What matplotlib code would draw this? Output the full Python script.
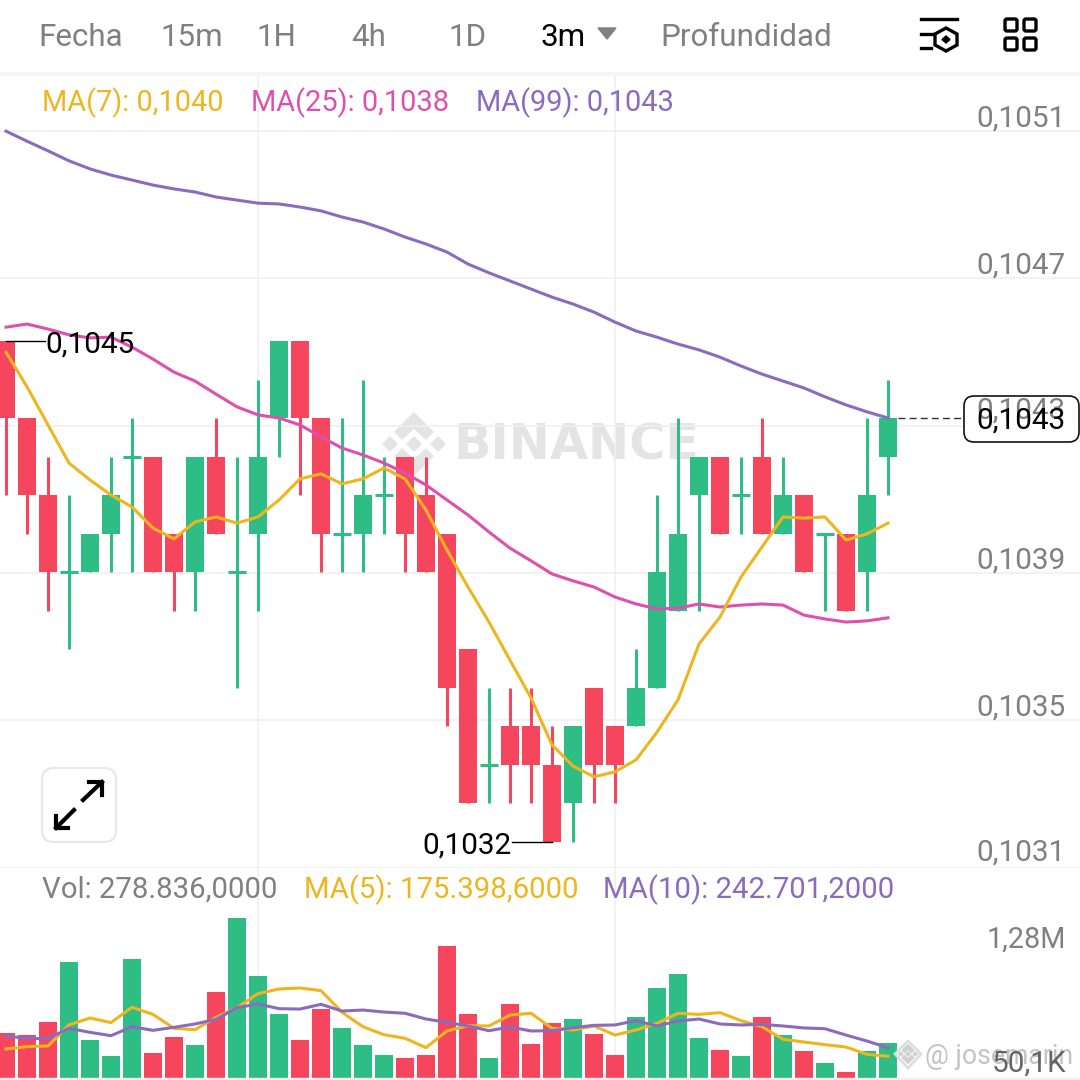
import matplotlib
matplotlib.use("Agg")
import matplotlib.pyplot as plt
from matplotlib.patches import FancyBboxPatch, Polygon

plt.rcParams['font.family'] = ['Roboto', 'DejaVu Sans']

# precios en diezmilesimas (1045 = 0,1045)
opens = [1045, 1043, 1041, 1039, 1039, 1040, 1042, 1042, 1040, 1039, 1042, 1039, 1040, 1043, 1045, 1043, 1040, 1040, 1041, 1042, 1041, 1040,
         1037, 1034, 1035, 1035, 1034, 1033, 1036, 1035, 1035, 1036, 1038, 1041, 1042, 1041, 1042, 1040, 1041, 1040, 1040, 1039, 1042]
closes = [1043, 1041, 1039, 1039, 1040, 1041, 1042, 1039, 1039, 1042, 1040, 1039, 1042, 1045, 1043, 1040, 1040, 1041, 1041, 1040, 1039, 1036,
          1033, 1034, 1034, 1034, 1032, 1035, 1034, 1034, 1036, 1039, 1040, 1042, 1040, 1041, 1040, 1041, 1039, 1040, 1038, 1041, 1043]
highs = [1045, 1043, 1042, 1041, 1040, 1042, 1043, 1042, 1040, 1042, 1043, 1042, 1044, 1045, 1045, 1043, 1043, 1044, 1042, 1042, 1042, 1040,
         1037, 1036, 1036, 1036, 1035, 1035, 1036, 1035, 1037, 1041, 1043, 1042, 1042, 1042, 1043, 1042, 1041, 1040, 1040, 1043, 1044]
lows = [1041, 1040, 1038, 1037, 1039, 1039, 1039, 1039, 1038, 1038, 1040, 1036, 1038, 1042, 1041, 1039, 1039, 1039, 1040, 1039, 1039, 1035,
        1033, 1033, 1033, 1033, 1032, 1032, 1033, 1033, 1035, 1036, 1038, 1038, 1040, 1040, 1040, 1040, 1039, 1038, 1038, 1038, 1041]

ma7 = [1044.71, 1043.81, 1042.82, 1041.83, 1041.39, 1041.0, 1040.69, 1040.14, 1039.86, 1040.3, 1040.43, 1040.27, 1040.43, 1040.87, 1041.42,
       1041.55, 1041.29, 1041.42, 1041.7, 1041.42, 1040.61, 1039.57, 1038.61, 1037.7, 1036.71, 1035.73, 1034.51, 1033.96, 1033.68, 1033.81,
       1034.12, 1034.84, 1035.68, 1037.13, 1037.83, 1038.87, 1039.65, 1040.43, 1040.4, 1040.43, 1039.83, 1039.99, 1040.27]
ma25 = [1045.36, 1045.44, 1045.31, 1045.16, 1045.08, 1045.1, 1044.84, 1044.53, 1044.19, 1043.96, 1043.62, 1043.29, 1043.08, 1043.0, 1042.82,
        1042.51, 1042.22, 1042.04, 1041.83, 1041.57, 1041.26, 1040.87, 1040.48, 1040.04, 1039.62, 1039.29, 1038.95, 1038.77, 1038.61, 1038.35,
        1038.17, 1038.04, 1038.06, 1038.17, 1038.09, 1038.14, 1038.17, 1038.14, 1037.88, 1037.78, 1037.7, 1037.73, 1037.81]
ma99 = [1050.45, 1050.19, 1049.94, 1049.68, 1049.47, 1049.31, 1049.18, 1049.05, 1048.95, 1048.87, 1048.74, 1048.66, 1048.58, 1048.56, 1048.48,
        1048.38, 1048.22, 1048.09, 1047.91, 1047.7, 1047.52, 1047.31, 1047.0, 1046.77, 1046.56, 1046.35, 1046.14, 1045.96, 1045.75, 1045.49,
        1045.26, 1045.1, 1044.92, 1044.77, 1044.58, 1044.35, 1044.14, 1043.96, 1043.78, 1043.55, 1043.34, 1043.16, 1043.0]

# volumen en miles
volumes = [359, 348, 453, 929, 305, 177, 953, 201, 329, 265, 688, 1285, 819, 514, 308, 557, 404, 268, 187, 161, 182, 1060,
           511, 158, 592, 270, 445, 477, 351, 182, 493, 726, 836, 321, 228, 174, 493, 345, 214, 118, 51, 220, 279]
vol_ma5 = [233, 252, 257, 426, 482, 445, 568, 511, 399, 388, 487, 565, 678, 715, 723, 702, 528, 412, 348, 319, 244, 378,
           420, 418, 506, 520, 399, 386, 418, 345, 386, 439, 520, 511, 525, 461, 412, 311, 289, 268, 249, 190, 175]
vol_ma10 = [337, 319, 316, 399, 367, 340, 412, 383, 407, 434, 471, 565, 595, 557, 554, 592, 538, 546, 530, 520, 474, 447,
            418, 380, 410, 378, 380, 404, 423, 426, 461, 418, 458, 474, 434, 426, 431, 418, 402, 396, 345, 297, 243]

grid_prices = [1050.45, 1046.64, 1042.79, 1038.97, 1035.16, 1031.31]
price_labels = ["0,1051", "0,1047", "0,1043", "0,1039", "0,1035", "0,1031"]
grid_candles = [12, 29]
tabs = ["Fecha", "15m", "1H", "4h", "1D", "3m", "Profundidad"]

GREEN = '#2ebd85'
RED = '#f6465d'
YELLOW = '#eeb51f'
PINK = '#df4fb0'
PURPLE = '#8a6bbd'
GRAY = '#808080'
GRID = '#f0f0f0'
MARK = '#e4e4e4'
LABEL_SIZE = 21.4
LEGEND_SIZE = 20.9


def px_axes(zorder):
    # eje en pixeles de la imagen para lo que no son datos
    a = fig.add_axes([0, 0, 1, 1], zorder=zorder)
    a.set_xlim(0, 1080)
    a.set_ylim(1080, 0)
    a.axis('off')
    return a


def binance_logo(a, cx, cy, s, color):
    # s = 1 es el logo grande de la marca de agua
    def pts(lst):
        return [(cx + x * s, cy + y * s) for x, y in lst]
    chevron = [(0, -31), (-19, -12), (-12, -5), (0, -16), (12, -5), (19, -12)]
    a.add_patch(Polygon(pts(chevron), color=color))
    a.add_patch(Polygon(pts([(x, -y) for x, y in chevron]), color=color))
    for dx in (-24, 0, 24):
        a.add_patch(Polygon(pts([(dx - 7, 0), (dx, -7), (dx + 7, 0), (dx, 7)]), color=color))


fig = plt.figure(figsize=(10.8, 10.8), dpi=100, facecolor='white')
bg = px_axes(0)
fg = px_axes(5)

# velas: vela i en x = 6 + 21 i
xlim = (-6 / 21, 1074 / 21)
ax = fig.add_axes([0, (1080 - 868) / 1080, 1, (868 - 75) / 1080], zorder=2)
ax.set_xlim(xlim)
ax.set_ylim(1045 - 527 / 38.5, 1045 + 266 / 38.5)
ax.patch.set_alpha(0)
ax.axis('off')

for p in grid_prices:
    ax.axhline(p, color=GRID, lw=1.2, zorder=0)
for c in grid_candles:
    ax.axvline(c, color=GRID, lw=1.2, zorder=0)

for i in range(len(opens)):
    o, c, h, l = opens[i], closes[i], highs[i], lows[i]
    col = GREEN if c >= o else RED
    ax.vlines(i, l, h, color=col, lw=2.2, zorder=2)
    if o == c:
        ax.hlines(o, i - 0.43, i + 0.43, color=col, lw=2.2, zorder=2)
    else:
        ax.bar(i, abs(c - o), bottom=min(o, c), width=0.86, color=col, zorder=3)

ax.plot(range(len(ma99)), ma99, color=PURPLE, lw=2.2, zorder=4)
ax.plot(range(len(ma25)), ma25, color=PINK, lw=2.2, zorder=4)
ax.plot(range(len(ma7)), ma7, color=YELLOW, lw=2.2, zorder=5)

# volumen
vax = fig.add_axes([0, 2 / 1080, 1, 210 / 1080], zorder=2)
vax.set_xlim(xlim)
vax.set_ylim(0, 210 * 8.035)
vax.patch.set_alpha(0)
vax.axis('off')
for c in grid_candles:
    vax.axvline(c, color=GRID, lw=1.2, zorder=0)
bar_colors = [GREEN if closes[i] >= opens[i] else RED for i in range(len(volumes))]
vax.bar(range(len(volumes)), volumes, width=0.86, color=bar_colors, zorder=2)
vax.plot(range(len(vol_ma5)), vol_ma5, color=YELLOW, lw=2.2, zorder=3)
vax.plot(range(len(vol_ma10)), vol_ma10, color=PURPLE, lw=2.2, zorder=3)

# marca de agua
bg.text(453, 446, "BINANCE", fontsize=35.5, fontweight='bold', family='DejaVu Sans', color=MARK, va='center', ha='left')
binance_logo(bg, 414, 444, 1, MARK)

# cabecera
fg.add_patch(plt.Rectangle((0, 72), 1080, 3, color='#f5f5f5'))
fg.add_patch(plt.Rectangle((0, 1078), 1080, 2, color='#f0f0f0'))
tab_x = [38, 160, 256, 351, 448, 541, 660]
for name, x in zip(tabs, tab_x):
    fg.text(x, 38, name, fontsize=22.6, color='black' if name == "3m" else GRAY, va='center', ha='left')
fg.add_patch(Polygon([(598, 28), (616, 28), (607, 39)], color=GRAY))

# iconos
fg.plot([921, 957], [19, 19], color='black', lw=2.4)
fg.plot([921, 933], [34, 34], color='black', lw=2.4)
fg.plot([921, 931], [48, 48], color='black', lw=2.4)
fg.add_patch(Polygon([(946, 28), (957, 34), (957, 45), (946, 51), (935, 45), (935, 34)], fill=False, ec='black', lw=2.4))
fg.add_patch(Polygon([(946, 36), (950, 39.5), (946, 43), (942, 39.5)], color='black'))
for x in (1004, 1023):
    for y in (18, 37):
        fg.add_patch(FancyBboxPatch((x + 1, y + 1), 12, 12, boxstyle="round,pad=0,rounding_size=2", fill=False, ec='black', lw=2.4))

# leyendas
fg.text(42, 103, "MA(7): 0,1040", fontsize=LEGEND_SIZE, color=YELLOW, va='center')
fg.text(251, 103, "MA(25): 0,1038", fontsize=LEGEND_SIZE, color=PINK, va='center')
fg.text(476, 103, "MA(99): 0,1043", fontsize=LEGEND_SIZE, color=PURPLE, va='center')
fg.text(42, 890, "Vol: 278.836,0000", fontsize=21.2, color=GRAY, va='center')
fg.text(304, 890, "MA(5): 175.398,6000", fontsize=21.2, color=YELLOW, va='center')
fg.text(603, 890, "MA(10): 242.701,2000", fontsize=21.2, color=PURPLE, va='center')

# eje de precios
for label, y in zip(price_labels, [119, 266, 411, 561, 708, 853]):
    fg.text(1066, y, label, fontsize=LABEL_SIZE, color=GRAY, va='center', ha='right')
fg.text(1066, 940, "1,28M", fontsize=20.8, color=GRAY, va='center', ha='right')

# maximo y minimo visibles
fg.plot([6, 45], [341, 341], color='black', lw=1)
fg.text(45, 345, "0,1045", fontsize=LABEL_SIZE, color='black', va='center', ha='left')
fg.plot([512, 552], [842, 842], color='black', lw=1)
fg.text(512, 846, "0,1032", fontsize=LABEL_SIZE, color='black', va='center', ha='right')

# precio actual
fg.plot([898, 964], [418, 418], color='#333333', lw=1, ls=(0, (5, 3)))
fg.add_patch(FancyBboxPatch((964, 396), 115, 46, boxstyle="round,pad=0,rounding_size=10", fc='white', ec='black', lw=1.2, alpha=0.93))
fg.text(1021, 421, "0,1043", fontsize=LABEL_SIZE, color='black', va='center', ha='center')

# boton de expandir
fg.add_patch(FancyBboxPatch((42, 768), 74, 74, boxstyle="round,pad=0,rounding_size=12", fc='white', ec='#e8e8e8', lw=1.6))
fg.plot([83, 102], [800, 782], color='black', lw=3)
fg.plot([89, 102, 102], [782, 782, 795], color='black', lw=3)
fg.plot([74, 56], [810, 828], color='black', lw=3)
fg.plot([56, 56, 68], [816, 828, 828], color='black', lw=3)

# firma
fg.text(925, 1057, "@ josemarin", fontsize=19.2, color='#bdbdbd', va='center', alpha=0.9)
fg.text(1066, 1064, "50,1K", fontsize=LABEL_SIZE, color='#555555', va='center', ha='right', alpha=0.9)
fg.add_patch(Polygon([(908, 1041), (921, 1054), (908, 1068), (895, 1054)], fc='white', ec='#dddddd', lw=2))
binance_logo(fg, 908, 1054, 0.3, '#d0d0d0')

fig.savefig("out.png", dpi=100)
